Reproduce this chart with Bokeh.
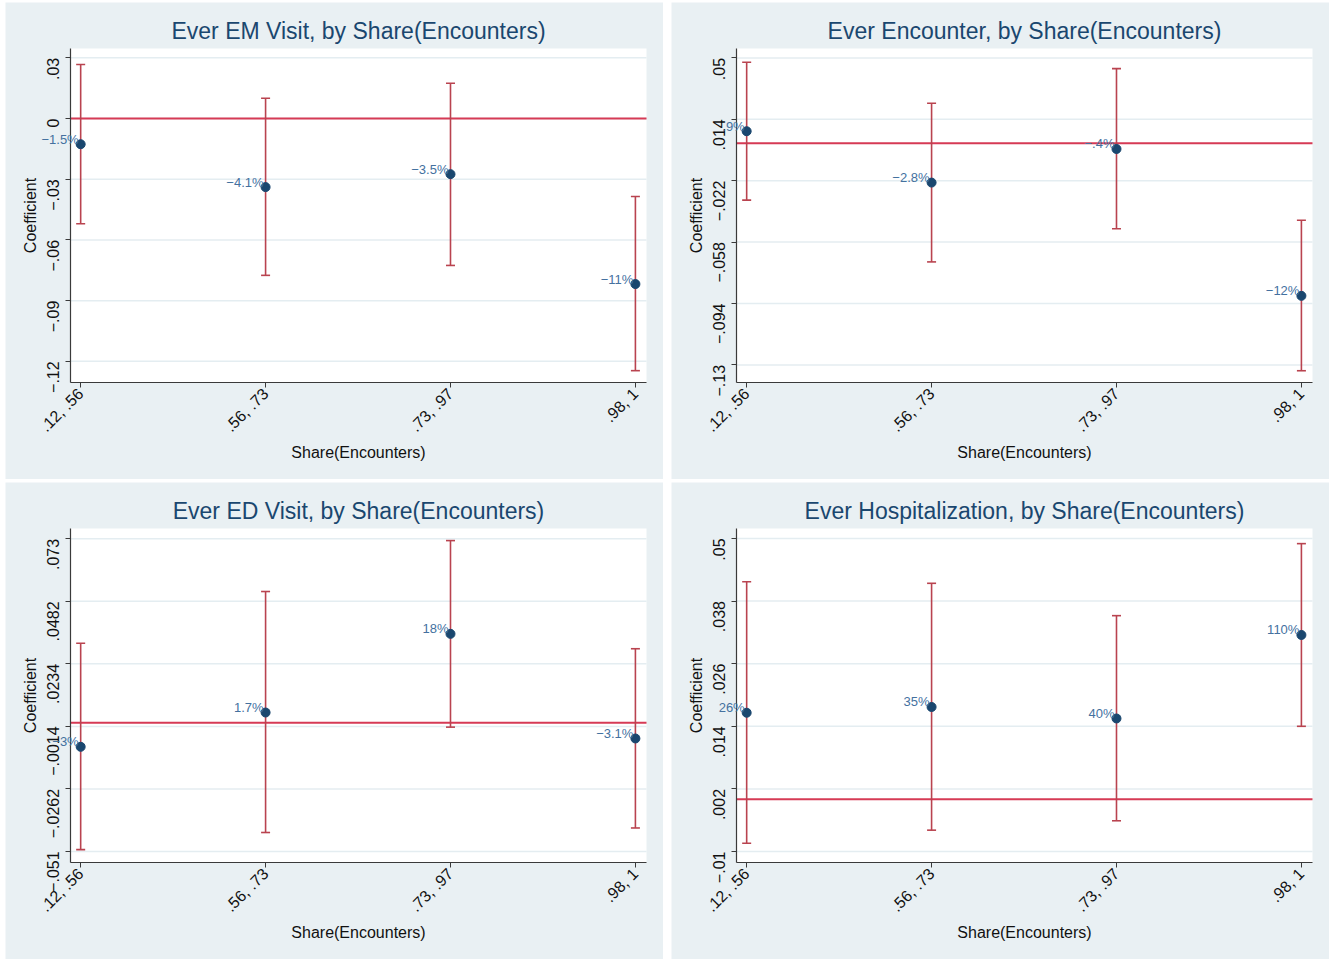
import math
from bokeh.plotting import figure
from bokeh.layouts import gridplot
from bokeh.models import (FixedTicker, ColumnDataSource, Range1d, Label, BoxAnnotation)
from bokeh.embed import file_html
from bokeh.resources import INLINE

# ---------------- data ----------------
categories = [".12, .56", ".56, .73", ".73, .97", ".98, 1"]
x_pos = [0, 1, 2, 3]
x_title = "Share(Encounters)"
y_title = "Coefficient"

em_title = "Ever EM Visit, by Share(Encounters)"
em_coef = [-0.0127, -0.0339, -0.0275, -0.0818]
em_lo = [-0.0520, -0.0775, -0.0726, -0.1246]
em_hi = [0.0267, 0.0100, 0.0174, -0.0385]
em_labels = ["\u22121.5%", "\u22124.1%", "\u22123.5%", "\u221211%"]
em_ticks = [-0.12, -0.09, -0.06, -0.03, 0.0, 0.03]
em_tick_labels = ["\u2212.12", "\u2212.09", "\u2212.06", "\u2212.03", "0", ".03"]

enc_title = "Ever Encounter, by Share(Encounters)"
enc_coef = [0.0070, -0.0231, -0.0034, -0.0895]
enc_lo = [-0.0334, -0.0696, -0.0502, -0.1334]
enc_hi = [0.0474, 0.0234, 0.0437, -0.0452]
enc_labels = [".9%", "\u22122.8%", "\u2212.4%", "\u221212%"]
enc_ticks = [-0.13, -0.094, -0.058, -0.022, 0.014, 0.05]
enc_tick_labels = ["\u2212.13", "\u2212.094", "\u2212.058", "\u2212.022", ".014", ".05"]

ed_title = "Ever ED Visit, by Share(Encounters)"
ed_coef = [-0.0095, 0.0041, 0.0353, -0.0062]
ed_lo = [-0.0503, -0.0435, -0.0017, -0.0417]
ed_hi = [0.0316, 0.0521, 0.0723, 0.0294]
ed_labels = ["\u22123%", "1.7%", "18%", "\u22123.1%"]
ed_ticks = [-0.051, -0.0262, -0.0014, 0.0234, 0.0482, 0.073]
ed_tick_labels = ["\u2212.051", "\u2212.0262", "\u2212.0014", ".0234", ".0482", ".073"]

hosp_title = "Ever Hospitalization, by Share(Encounters)"
hosp_coef = [0.0166, 0.0177, 0.0155, 0.0315]
hosp_lo = [-0.0084, -0.0059, -0.0041, 0.0140]
hosp_hi = [0.0417, 0.0414, 0.0352, 0.0490]
hosp_labels = ["26%", "35%", "40%", "110%"]
hosp_ticks = [-0.01, 0.002, 0.014, 0.026, 0.038, 0.05]
hosp_tick_labels = ["\u2212.01", ".002", ".014", ".026", ".038", ".05"]

reference_line = 0.0

# ---------------- style / layout ----------------
FONT = "Liberation Sans"
BG = "#e9f0f3"
NAVY = "#1a476f"
LABEL_BLUE = "#44719f"
CI_RED = "#b9434f"
ZERO_RED = "#d63a55"
GRID = "#e4edf1"
AXIS = "#3a3a3a"

W, H = 658, 477                 # panel size (px)
PL, PR, PT, PB = 65, 641, 46, 379.5   # white plot region inside the panel (px)
TITLE_Y = 28                    # title centre from the panel top (px)
X_LO, X_HI = -0.055, 3.06       # x extent of the plot region (data units)

y_ranges = [(-0.1302, 0.0346), (-0.140, 0.0555), (-0.0552, 0.0771), (-0.012, 0.0519)]

panels = [
    (em_title, em_coef, em_lo, em_hi, em_labels, em_ticks, em_tick_labels),
    (enc_title, enc_coef, enc_lo, enc_hi, enc_labels, enc_ticks, enc_tick_labels),
    (ed_title, ed_coef, ed_lo, ed_hi, ed_labels, ed_ticks, ed_tick_labels),
    (hosp_title, hosp_coef, hosp_lo, hosp_hi, hosp_labels, hosp_ticks, hosp_tick_labels),
]


def make_panel(spec, yr):
    title, coef, lo, hi, labels, ticks, tick_labels = spec
    y_lo, y_hi = yr
    sx = (PR - PL) / (X_HI - X_LO)
    sy = (PB - PT) / (y_hi - y_lo)
    x_range = Range1d(X_LO - PL / sx, X_HI + (W - PR) / sx)
    y_range = Range1d(y_lo - (H - PB) / sy, y_hi + PT / sy)

    p = figure(width=W, height=H, output_backend="svg", toolbar_location=None,
               tools="", x_range=x_range, y_range=y_range,
               min_border=0, background_fill_color=BG,
               border_fill_color=BG, outline_line_color=None)
    p.title.visible = False
    p.xgrid.visible = False
    p.ygrid.visible = False

    # white plot region
    p.add_layout(BoxAnnotation(left=X_LO, right=X_HI, bottom=y_lo, top=y_hi,
                               fill_color="white", fill_alpha=1.0,
                               line_color=None, level="image"))

    # horizontal grid lines at the y ticks
    n = len(ticks)
    p.segment(x0=[X_LO] * n, y0=ticks, x1=[X_HI] * n, y1=ticks,
              line_color=GRID, line_width=1.5)
    # reference line at zero
    p.segment(x0=[X_LO], y0=[reference_line], x1=[X_HI], y1=[reference_line],
              line_color=ZERO_RED, line_width=2)

    src = ColumnDataSource(dict(x=x_pos, coef=coef, lo=lo, hi=hi))
    p.segment(x0="x", y0="lo", x1="x", y1="hi", source=src, line_color=CI_RED, line_width=1.6)
    p.scatter(x="x", y="lo", source=src, marker="dash", size=9, line_color=CI_RED, line_width=1.6)
    p.scatter(x="x", y="hi", source=src, marker="dash", size=9, line_color=CI_RED, line_width=1.6)
    p.scatter(x="x", y="coef", source=src, marker="circle", size=9,
              fill_color=NAVY, line_color=NAVY)
    for xv, yv, txt in zip(x_pos, coef, labels):
        p.add_layout(Label(x=xv, y=yv, text=txt, x_offset=-2, y_offset=5,
                           text_align="right", text_baseline="alphabetic",
                           text_font_size="13px", text_color=LABEL_BLUE,
                           text_font=FONT))

    # title, centred over the plot region
    p.add_layout(Label(x=(X_LO + X_HI) / 2, y=y_hi, y_offset=PT - TITLE_Y, text=title,
                       text_align="center", text_baseline="middle",
                       text_font_size="23px", text_color=NAVY, text_font=FONT))

    # x axis
    xa = p.xaxis[0]
    xa.ticker = FixedTicker(ticks=x_pos)
    xa.major_label_overrides = {x: c for x, c in zip(x_pos, categories)}
    xa.major_label_orientation = math.pi / 4
    xa.axis_label = x_title
    xa.fixed_location = y_lo
    xa.bounds = (X_LO, X_HI)

    # y axis
    ya = p.yaxis[0]
    ya.ticker = FixedTicker(ticks=ticks)
    ya.major_label_overrides = {t: l for t, l in zip(ticks, tick_labels)}
    ya.major_label_orientation = math.pi / 2
    ya.axis_label = y_title
    ya.fixed_location = X_LO
    ya.bounds = (y_lo, y_hi)

    for ax in (xa, ya):
        ax.minor_tick_line_color = None
        ax.axis_line_color = AXIS
        ax.axis_line_width = 1.2
        ax.major_tick_line_color = AXIS
        ax.major_tick_in = 0
        ax.major_tick_out = 5
        ax.major_label_text_font = FONT
        ax.major_label_text_font_size = "16px"
        ax.major_label_text_color = "#111111"
        ax.axis_label_text_font = FONT
        ax.axis_label_text_font_size = "16px"
        ax.axis_label_text_font_style = "normal"
        ax.axis_label_text_color = "#111111"
    xa.major_label_standoff = 4
    xa.axis_label_standoff = 0
    ya.major_label_standoff = 12
    ya.axis_label_standoff = 0
    return p


figs = [make_panel(s, yr) for s, yr in zip(panels, y_ranges)]
grid = gridplot([[figs[0], figs[1]], [figs[2], figs[3]]], toolbar_location=None)
grid.spacing = (3, 8)
if "margin" in grid.properties():
    grid.margin = (2, 0, 0, 5)
else:
    grid.styles = {"margin-left": "5px", "margin-top": "2px"}

open("out.html", "w").write(file_html(grid, INLINE))
